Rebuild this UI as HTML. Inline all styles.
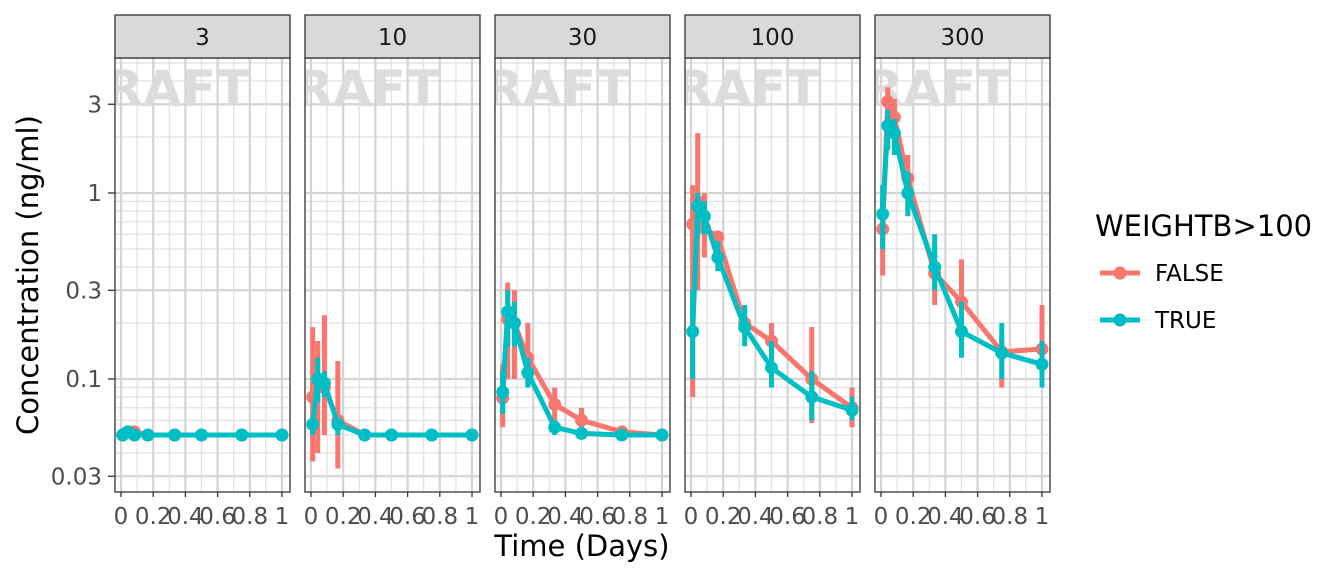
<!DOCTYPE html>
<html><head><meta charset="utf-8"><style>
body{margin:0;background:#fff;}
svg{font-family:"DejaVu Sans","Liberation Sans",sans-serif;}
</style></head><body>
<svg id="chart" width="1344" height="576" xmlns="http://www.w3.org/2000/svg"></svg>
<script>
const panels = ["3","10","30","100","300"];
const times = [0.0104,0.0417,0.0833,0.1667,0.3333,0.5,0.75,1];
const yTicks = [0.03,0.1,0.3,1,3];
const yTickLabels = ["0.03","0.1","0.3","1","3"];
const xTicks = [0,0.2,0.4,0.6,0.8,1];
const xTickLabels = ["0","0.2","0.4","0.6","0.8","1"];
const falseMean = [
 [0.05,0.052,0.052,0.05,0.05,0.05,0.05,0.05],
 [0.08,0.1,0.09,0.06,0.05,0.05,0.05,0.05],
 [0.079,0.21,0.2,0.13,0.073,0.06,0.052,0.05],
 [0.68,0.9,0.65,0.58,0.2,0.16,0.1,0.07],
 [0.64,3.1,2.55,1.2,0.37,0.26,0.14,0.145]];
const falseLo = [
 [0.048,0.05,0.05,0.05,0.05,0.05,0.05,0.05],
 [0.036,0.04,0.05,0.033,0.05,0.05,0.05,0.05],
 [0.055,0.1,0.1,0.09,0.06,0.05,0.05,0.05],
 [0.08,0.3,0.45,0.4,0.17,0.12,0.058,0.055],
 [0.36,2.2,1.8,0.8,0.25,0.18,0.09,0.12]];
const falseHi = [
 [0.053,0.056,0.055,0.05,0.05,0.05,0.05,0.05],
 [0.19,0.16,0.22,0.125,0.05,0.05,0.05,0.05],
 [0.12,0.33,0.3,0.2,0.09,0.07,0.055,0.052],
 [1.1,2.1,1.0,0.6,0.23,0.2,0.19,0.09],
 [0.9,3.7,3.2,1.6,0.5,0.44,0.17,0.25]];
const trueMean = [
 [0.05,0.052,0.05,0.05,0.05,0.05,0.05,0.05],
 [0.057,0.1,0.095,0.057,0.05,0.05,0.05,0.05],
 [0.085,0.23,0.2,0.108,0.055,0.051,0.05,0.05],
 [0.18,0.85,0.75,0.45,0.19,0.115,0.08,0.068],
 [0.77,2.3,2.1,1.0,0.4,0.18,0.138,0.12]];
const trueLo = [
 [0.05,0.05,0.05,0.05,0.05,0.05,0.05,0.05],
 [0.05,0.075,0.08,0.05,0.05,0.05,0.05,0.05],
 [0.065,0.15,0.15,0.09,0.05,0.05,0.05,0.05],
 [0.1,0.6,0.6,0.38,0.15,0.09,0.06,0.06],
 [0.5,1.7,1.6,0.75,0.3,0.13,0.1,0.09]];
const trueHi = [
 [0.05,0.054,0.05,0.05,0.05,0.05,0.05,0.05],
 [0.062,0.13,0.11,0.062,0.05,0.05,0.05,0.05],
 [0.11,0.3,0.26,0.13,0.06,0.052,0.05,0.05],
 [0.3,1.0,0.9,0.55,0.25,0.16,0.11,0.08],
 [1.1,2.8,2.5,1.3,0.6,0.26,0.2,0.16]];

const NS="http://www.w3.org/2000/svg";
const svg=document.getElementById('chart');
function mk(tag,attrs,parent){const e=document.createElementNS(NS,tag);for(const k in attrs)e.setAttribute(k,attrs[k]);(parent||svg).appendChild(e);return e;}
const PW=175, GAP=15, X0=115, TOP=58, BOT=492;
function yS(v){return 193-186*Math.log10(v);}
function xS(p,t){return X0+p*(PW+GAP)+6+161*t;}
const RED="#F8766D", BLUE="#00BFC4";

const defs=mk('defs',{});
panels.forEach((lab,p)=>{
  const L=X0+p*(PW+GAP);
  const cp=mk('clipPath',{id:'c'+p},defs);
  mk('rect',{x:L,y:TOP,width:PW,height:BOT-TOP},cp);
  const g=mk('g',{'clip-path':'url(#c'+p+')'});
  
  
  [0.01,0.1,1].forEach(d=>{for(let k=2;k<=9;k++){const v=d*k;const y=yS(v);if(y>TOP&&y<BOT)mk('line',{x1:L,x2:L+PW,y1:y,y2:y,stroke:'#e0e0e0','stroke-width':1.2},g);}});
  yTicks.forEach(v=>{mk('line',{x1:L,x2:L+PW,y1:yS(v),y2:yS(v),stroke:'#d4d4d4','stroke-width':2.2},g);});
  [0.1,0.3,0.5,0.7,0.9].forEach(t=>mk('line',{x1:xS(p,t),x2:xS(p,t),y1:TOP,y2:BOT,stroke:'#e0e0e0','stroke-width':1.2},g));
  xTicks.forEach(t=>mk('line',{x1:xS(p,t),x2:xS(p,t),y1:TOP,y2:BOT,stroke:'#d4d4d4','stroke-width':2.2},g));
  const wm=mk('text',{x:L+135,y:106,'text-anchor':'end','font-size':50,'font-weight':'bold',fill:'#dcdcdc'},g);
  wm.textContent='DRAFT';
  
  
  [[falseMean,falseLo,falseHi,RED,'false'],[trueMean,trueLo,trueHi,BLUE,'true']].forEach(([m,lo,hi,col,nm])=>{
    times.forEach((t,i)=>{
      const e=mk('line',{x1:xS(p,t),x2:xS(p,t),y1:yS(lo[p][i]),y2:yS(hi[p][i]),stroke:col,'stroke-width':5},g);
      
      
    });
    const pts=times.map((t,i)=>xS(p,t)+','+yS(m[p][i])).join(' ');
    const pl=mk('polyline',{points:pts,fill:'none',stroke:col,'stroke-width':5,'stroke-linejoin':'round'},g);
    
    
    times.forEach((t,i)=>{
      const c=mk('circle',{cx:xS(p,t),cy:yS(m[p][i]),r:6.5,fill:col},g);
      
      
    });
  });
  const fr=mk('rect',{x:L,y:TOP,width:PW,height:BOT-TOP,fill:'none',stroke:'#333','stroke-width':1.3});
  
  
  const st=mk('rect',{x:L,y:15,width:PW,height:43,fill:'#d9d9d9',stroke:'#333','stroke-width':1.3});
  
  
  const sl=mk('text',{x:L+PW/2,y:45,'text-anchor':'middle','font-size':23,fill:'#1a1a1a'});
  sl.textContent=lab;
  
  
  xTicks.forEach((t,i)=>{
    mk('line',{x1:xS(p,t),x2:xS(p,t),y1:BOT,y2:BOT+5,stroke:'#333','stroke-width':1.3});
    const tx=mk('text',{x:xS(p,t),y:524,'text-anchor':'middle','font-size':23,fill:'#4d4d4d'});
    tx.textContent=xTickLabels[i];
    
    
  });
});
yTicks.forEach((v,i)=>{
  mk('line',{x1:108,x2:115,y1:yS(v),y2:yS(v),stroke:'#333','stroke-width':1.3});
  const t=mk('text',{x:102,y:yS(v)+8,'text-anchor':'end','font-size':23,fill:'#4d4d4d'});
  t.textContent=yTickLabels[i];
  
  
});
const xt=mk('text',{x:582,y:556,'text-anchor':'middle','font-size':29,fill:'#000'});
xt.textContent='Time (Days)';


const yt=mk('text',{x:0,y:0,'text-anchor':'middle','font-size':29,fill:'#000',transform:'translate(38,275) rotate(-90)'});
yt.textContent='Concentration (ng/ml)';


const lt=mk('text',{x:1095,y:236,'font-size':29,fill:'#000'});
lt.textContent='WEIGHTB>100';


[['FALSE',RED,273],['TRUE',BLUE,320]].forEach(([lab,col,y])=>{
  const g=mk('g',{});
  
  
  mk('line',{x1:1100,x2:1140,y1:y,y2:y,stroke:col,'stroke-width':5},g);
  mk('circle',{cx:1120,cy:y,r:6.5,fill:col},g);
  const t=mk('text',{x:1155,y:y+8,'font-size':23,fill:'#000'},g);
  t.textContent=lab;
});
</script>
</body></html>
